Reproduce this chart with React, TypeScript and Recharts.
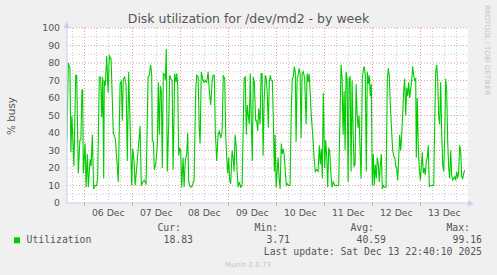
import { LineChart, Line, XAxis, YAxis, ReferenceLine } from 'recharts'

// hours since 06 Dec 00:00, and % busy at that time
const hours = [
  -8.7, -8.0, -7.2, -6.7, -6.2, -5.2, -4.3, -3.8, -3.0, -2.2, -1.7, -1.2, -0.8, -0.5,
  0.4, 0.9, 1.5, 2.0, 2.9, 3.4, 4.0, 4.7, 5.4, 6.2, 6.7, 7.5, 8.2, 8.7, 9.2, 9.7, 10.0,
  10.5, 11.2, 11.9, 12.5, 13.4, 14.5, 15.5, 16.5, 17.0, 17.9, 18.5, 19.0, 19.5, 20.2,
  20.9, 21.5, 22.2, 23.2, 23.7, 24.2, 24.9, 25.4, 26.2, 26.9, 27.9, 28.5, 29.2, 29.9,
  30.9, 31.9, 32.5, 33.2, 33.7, 34.0, 34.5, 35.0, 35.7, 36.5, 37.0, 37.5, 38.0, 38.5,
  39.0, 39.5, 40.2, 40.5, 41.0, 41.5, 42.2, 42.7, 43.2, 43.9, 44.4, 45.2, 45.9, 46.2,
  46.7, 47.2, 47.7, 48.2, 48.7, 49.4, 49.9, 50.5, 51.2, 51.7, 52.2, 52.7, 53.4, 54.0,
  54.9, 55.7, 56.2, 56.9, 57.5, 57.9, 58.5, 59.2, 59.9, 60.5, 61.2, 61.9, 62.5, 63.2,
  63.9, 64.4, 65.0, 65.5, 66.2, 66.9, 67.5, 68.2, 68.9, 69.5, 70.2, 70.7, 71.2, 71.7,
  72.2, 72.7, 73.2, 73.9, 74.4, 74.9, 75.4, 75.9, 76.4, 76.9, 77.5, 78.2, 78.9, 79.5,
  79.9, 80.5, 81.0, 81.5, 82.0, 82.5, 83.0, 83.5, 84.0, 84.5, 85.0, 85.7, 86.2, 86.7,
  87.2, 87.9, 88.4, 88.9, 89.4, 89.9, 90.5, 91.0, 91.5, 92.0, 92.5, 93.0, 93.5, 94.0,
  94.5, 95.0, 95.4, 95.9, 96.4, 96.9, 97.4, 97.9, 98.5, 99.0, 99.5, 100.0, 100.5, 101.0,
  101.5, 102.2, 102.9, 103.5, 104.0, 104.5, 105.0, 105.5, 105.9, 106.4, 106.9, 107.4,
  107.9, 108.4, 108.9, 109.5, 110.2, 110.9, 111.4, 111.9, 112.4, 112.9, 113.5, 114.2,
  114.9, 115.5, 116.2, 116.9, 117.5, 118.0, 118.5, 119.0, 119.5, 120.2, 120.7, 121.2,
  121.7, 122.2, 122.7, 123.2, 123.9, 124.5, 125.2, 125.9, 126.5, 127.2, 127.9, 128.4,
  128.9, 129.4, 129.9, 130.4, 130.9, 131.4, 131.9, 132.4, 132.9, 133.4, 133.9, 134.4,
  134.9, 135.4, 135.9, 136.4, 136.9, 137.4, 137.9, 138.4, 139.0, 139.5, 140.0, 140.5,
  141.0, 141.5, 142.0, 142.5, 143.0, 143.5, 144.0, 144.5, 145.0, 145.5, 146.0, 146.5,
  147.0, 147.5, 148.0, 148.5, 149.0, 149.5, 150.2, 150.9, 151.5, 152.0, 152.5, 153.0,
  153.5, 154.2, 154.7, 155.2, 155.7, 156.2, 156.7, 157.2, 157.7, 158.2, 158.7, 159.2,
  159.7, 160.2, 160.7, 161.2, 161.7, 162.2, 162.7, 163.2, 163.7, 164.2, 164.7, 165.2,
  165.7, 166.0, 166.5, 167.0, 167.5, 168.0, 168.5, 169.0, 169.5, 170.0, 170.5, 171.0,
  171.5, 172.0, 172.5, 173.0, 173.5, 174.2, 174.7, 175.2, 175.7, 176.2, 176.7, 177.2,
  177.7, 178.2, 178.7, 179.2, 179.7, 180.2, 180.7, 181.2, 181.7, 182.2, 182.7, 183.2,
  183.7, 184.2, 184.7, 185.2, 185.7, 186.2, 186.7, 187.2, 187.7, 188.2, 188.7, 189.2,
  189.7, 190.2,
]

const busy = [
  36, 80, 77, 29, 50, 21, 73, 73, 17, 36, 36, 64, 65, 17,
  34, 9, 28, 9, 25, 21, 39, 8, 10, 10, 15, 72, 72, 49, 72, 14, 70,
  67, 84, 63, 84, 82, 40, 37, 21, 12, 68, 70, 47, 71, 72,
  67, 24, 75, 31, 10, 31, 24, 10, 20, 30, 44, 10, 12, 13,
  11, 72, 73, 79, 73, 36, 35, 19, 22, 33, 69, 39, 67, 64,
  20, 74, 73, 70, 88, 18, 45, 73, 71, 70, 19, 74, 69, 74,
  68, 27, 31, 30, 9, 26, 9, 24, 28, 40, 12, 10, 9, 10,
  13, 64, 73, 72, 41, 34, 75, 71, 69, 70, 69, 75, 64, 56,
  69, 73, 73, 41, 24, 39, 41, 37, 41, 73, 71, 39, 26, 17,
  26, 13, 11, 30, 26, 18, 39, 33, 18, 9, 12, 9, 10, 45,
  71, 72, 39, 56, 50, 45, 74, 47, 24, 72, 69, 47, 47, 41,
  54, 45, 74, 74, 27, 58, 73, 71, 62, 43, 69, 73, 70, 70,
  49, 18, 39, 9, 18, 26, 14, 8, 34, 28, 31, 27, 18, 10,
  11, 10, 10, 54, 71, 72, 78, 75, 35, 71, 73, 77,
  74, 37, 74, 75, 71, 45, 74, 69, 74, 64, 50, 39,
  26, 18, 19, 18, 33, 22, 31, 14, 63, 20, 36, 27,
  9, 31, 30, 18, 9, 12, 10, 10, 10, 10, 54, 79,
  71, 39, 64, 30, 75, 71, 12, 71, 72, 18, 70, 41,
  21, 22, 68, 51, 43, 50, 30, 14, 71, 76, 78, 73,
  18, 75, 68, 73, 61, 68, 10, 28, 10, 22, 14, 26,
  22, 12, 22, 28, 8, 10, 9, 9, 70, 77, 73, 56,
  45, 30, 27, 26, 21, 20, 13, 26, 39, 30, 39, 51,
  64, 71, 50, 66, 61, 69, 60, 65, 70, 78, 73, 70,
  71, 26, 60, 31, 20, 13, 20, 29, 17, 20, 16, 24,
  26, 33, 9.5, 10, 10, 10, 10, 45, 75, 79, 70, 49,
  45, 69, 39, 22, 18, 39, 71, 64, 35, 20, 14, 30,
  16, 13, 14, 15, 13, 18, 14, 18, 33, 30, 15, 14,
  17, 18.83,
]

const dayLabels = ['06 Dec', '07 Dec', '08 Dec', '09 Dec', '10 Dec', '11 Dec', '12 Dec', '13 Dec']
const labelHours = [12, 36, 60, 84, 108, 132, 156, 180]
const midnightHours = [0, 24, 48, 72, 96, 120, 144, 168]
const sixHourLines = [-6, 6, 12, 18, 30, 36, 42, 54, 60, 66, 78, 84, 90, 102, 108, 114, 126, 132, 138, 150, 156, 162, 174, 180, 186]
const busyTicks = [0, 10, 20, 30, 40, 50, 60, 70, 80, 90, 100]
const busyMinor = [5, 15, 25, 35, 45, 55, 65, 75, 85, 95]

const legendHeads = ['Cur:', 'Min:', 'Avg:', 'Max:']
const legendValues = ['18.83', '3.71', '40.59', '99.16']

const data = hours.map((h, i) => ({ h, busy: busy[i] }))

const TEXT = '#555555'
const AXIS = '#c9cff2'
const MAJOR = '#e89a9a'
const MINOR = '#c8c8c8'
const SANS = '"DejaVu Sans", sans-serif'
const MONO = '"DejaVu Sans Mono", monospace'
const PLOT_LEFT = 67
const PLOT_RIGHT = 468

function DayTick({ x, y, payload }: any) {
  const idx = labelHours.indexOf(payload.value)
  return (
    <text x={x} y={y + 13} textAnchor="middle" fontSize={9.3} fontFamily={SANS} fill={TEXT}>
      {dayLabels[idx]}
    </text>
  )
}

function BusyTick({ y, payload }: any) {
  return (
    <text x={60} y={y + 3.3} textAnchor="end" fontSize={9.3} fontFamily={SANS} fill={TEXT}>
      {payload.value}
    </text>
  )
}

export default function App() {
  const legendX = [181, 278, 374, 470]
  const valueX = [193, 290, 386, 482]
  return (
    <div style={{ position: 'fixed', left: 0, top: 0, width: 497, height: 275, background: '#f0f0f0' }}>
      {/* white plot canvas behind the transparent chart svg */}
      <div style={{ position: 'absolute', left: PLOT_LEFT, top: 28, width: PLOT_RIGHT - PLOT_LEFT, height: 175, background: '#ffffff' }} />
      <div style={{ position: 'absolute', left: 0, top: 0 }}>
        <LineChart width={497} height={275} data={data} margin={{ top: 28, right: 29, bottom: 52, left: 27 }}>
          <XAxis
            dataKey="h"
            type="number"
            domain={[-8.65, 191.85]}
            allowDataOverflow
            ticks={labelHours}
            interval={0}
            tick={<DayTick />}
            tickLine={false}
            tickSize={0}
            tickMargin={0}
            height={20}
            axisLine={{ stroke: AXIS }}
          />
          <YAxis
            type="number"
            domain={[0, 100]}
            ticks={busyTicks}
            interval={0}
            tick={<BusyTick />}
            tickLine={false}
            width={40}
            axisLine={{ stroke: AXIS }}
          />
          {busyMinor.map((v) => (
            <ReferenceLine key={`ym${v}`} y={v} stroke={MINOR} strokeWidth={1} strokeDasharray="1 2" ifOverflow="extendDomain" />
          ))}
          {busyTicks.slice(1).map((v) => (
            <ReferenceLine key={`yM${v}`} y={v} stroke={MAJOR} strokeWidth={1} strokeDasharray="1 2" ifOverflow="extendDomain" />
          ))}
          {sixHourLines.map((h) => (
            <ReferenceLine key={`xm${h}`} x={h} stroke={MINOR} strokeDasharray="1 2" shapeRendering="crispEdges" />
          ))}
          {midnightHours.map((h) => (
            <ReferenceLine key={`xM${h}`} x={h} stroke={MAJOR} strokeDasharray="1 2" shapeRendering="crispEdges" />
          ))}
          {midnightHours.map((h) => (
            <ReferenceLine
              key={`xt${h}`}
              ifOverflow="visible"
              segment={[{ x: h, y: 0 }, { x: h, y: -1.8 }]}
              stroke={MAJOR}
              shapeRendering="crispEdges"
            />
          ))}
          <Line
            dataKey="busy"
            type="linear"
            stroke="#00cc00"
            strokeWidth={1.1}
            dot={false}
            isAnimationActive={false}
          />
        </LineChart>
      </div>
      <svg width={497} height={275} style={{ position: 'absolute', left: 0, top: 0, pointerEvents: 'none' }}>
        <text x={248.5} y={23} textAnchor="middle" fontSize={12.5} fontFamily={SANS} fill={TEXT}>
          Disk utilization for /dev/md2 - by week
        </text>
        <text transform="translate(14.5,116) rotate(-90)" textAnchor="middle" fontSize={10.4} fontFamily={SANS} fill={TEXT}>
          % busy
        </text>
        <text transform="translate(485,5) rotate(90)" fontSize={7} fontFamily={SANS} fill="#c4c4c4">
          RRDTOOL / TOBI OETIKER
        </text>
        <polygon points="63.7,28 69.7,28 66.7,21.5" fill={AXIS} />
        <line x1={468} y1={203.5} x2={470} y2={203.5} stroke={AXIS} />
        <polygon points="468,200.5 468,206.5 474,203.5" fill={AXIS} />
        <rect x={14} y={237.3} width={6} height={6} fill="#00cc00" />
        <text x={26.5} y={243} fontSize={9.8} fontFamily={MONO} fill={TEXT}>Utilization</text>
        {legendHeads.map((t, i) => (
          <text key={t} x={legendX[i]} y={231} textAnchor="end" fontSize={9.8} fontFamily={MONO} fill={TEXT}>
            {t}
          </text>
        ))}
        {legendValues.map((t, i) => (
          <text key={t} x={valueX[i]} y={243} textAnchor="end" fontSize={9.8} fontFamily={MONO} fill={TEXT}>
            {t}
          </text>
        ))}
        <text x={482} y={255} textAnchor="end" fontSize={9.8} fontFamily={MONO} fill={TEXT}>
          Last update: Sat Dec 13 22:40:10 2025
        </text>
        <text x={248} y={267} textAnchor="middle" fontSize={7} fontFamily={SANS} fill="#c4c4c4">
          Munin 2.0.73
        </text>
      </svg>
    </div>
  )
}
